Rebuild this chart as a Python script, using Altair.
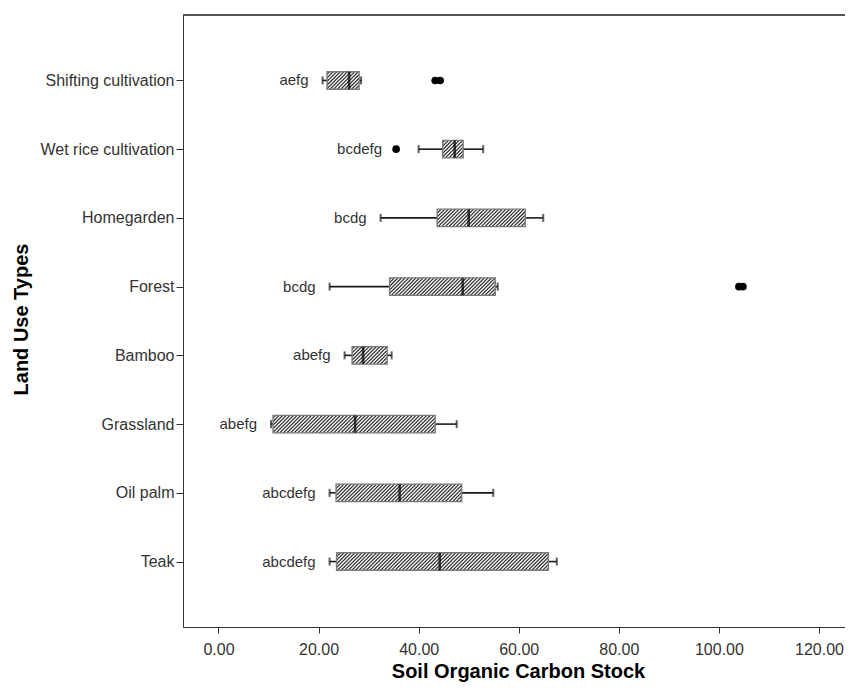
import json
import altair as alt
import numpy as np
import pandas as pd

# ---------------- data ----------------
land_use = ["Shifting cultivation", "Wet rice cultivation", "Homegarden", "Forest",
            "Bamboo", "Grassland", "Oil palm", "Teak"]
whisker_low = [20.8, 40.0, 32.4, 22.2, 25.2, 10.5, 22.2, 22.2]
q1 = [21.7, 44.8, 43.7, 34.2, 26.7, 10.9, 23.5, 23.6]
median = [26.1, 47.2, 50.0, 48.8, 28.9, 27.3, 36.2, 44.2]
q3 = [28.1, 48.9, 61.3, 55.3, 33.7, 43.3, 48.6, 65.9]
whisker_high = [28.5, 52.9, 64.9, 55.8, 34.6, 47.6, 54.9, 67.6]
letters = ["aefg", "bcdefg", "bcdg", "bcdg", "abefg", "abefg", "abcdefg", "abcdefg"]
outlier_group = ["Shifting cultivation", "Shifting cultivation", "Wet rice cultivation",
                 "Forest", "Forest"]
outlier_value = [43.3, 44.3, 35.5, 104.0, 104.8]
x_ticks = [0, 20, 40, 60, 80, 100, 120]

# ---------------- layout ----------------
W, H = 662, 612
x_dom = [-7.094, 125.2]
y_dom = [-0.952, 7.952]
ppu = W / (x_dom[1] - x_dom[0])
row_px = H / (y_dom[1] - y_dom[0])
box_px = 17.5
hh = box_px / 2 / row_px

rows = list(range(len(land_use)))
boxes = pd.DataFrame({
    "row": rows, "group": land_use, "lo": whisker_low, "q1": q1, "med": median,
    "q3": q3, "hi": whisker_high, "letters": letters,
})
out_df = pd.DataFrame({"group": outlier_group, "value": outlier_value})
out_df["row"] = out_df["group"].map({g: i for i, g in enumerate(land_use)})

# leftmost element of each row for the letter annotation
left_most = []
for i, g in enumerate(land_use):
    vals = [whisker_low[i]] + [v for gg, v in zip(outlier_group, outlier_value) if gg == g]
    left_most.append(min(vals))
boxes["left"] = left_most

# whisker segments
wh = pd.concat([
    pd.DataFrame({"row": rows, "a": whisker_low, "b": q1}),
    pd.DataFrame({"row": rows, "a": q3, "b": whisker_high}),
])
caps = pd.concat([
    pd.DataFrame({"row": rows, "v": whisker_low}),
    pd.DataFrame({"row": rows, "v": whisker_high}),
])

# hatch pattern derived from box extents
run = box_px / ppu
step = 3.6 / ppu
hatch = []
for i, (a, b) in enumerate(zip(q1, q3)):
    s0 = np.floor((a - run) / step) * step
    for s in np.arange(s0, b, step):
        t0 = max(0.0, (a - s) / run)
        t1 = min(1.0, (b - s) / run)
        if t1 > t0:
            hatch.append({"x": s + t0 * run, "x2": s + t1 * run,
                          "y": i + hh - 2 * hh * t0, "y2": i + hh - 2 * hh * t1})
hatch = pd.DataFrame(hatch)

FONT = "Liberation Sans"
xs = alt.Scale(domain=x_dom, nice=False, zero=False)
ys = alt.Scale(domain=y_dom, nice=False, zero=False, reverse=True)

label_expr = json.dumps(land_use) + "[datum.value]"

x_axis = alt.Axis(values=x_ticks, format=".2f", grid=False, labelFont=FONT, labelFontSize=16,
                  labelColor="#333333", tickColor="#333333", domainColor="#333333",
                  tickSize=6, labelPadding=8, title="Soil Organic Carbon Stock",
                  titleFont=FONT, titleFontSize=20, titleFontWeight="bold", titleColor="#000000",
                  titleX=(853 - 183) / 2, titleY=50.5, titleBaseline="alphabetic",
                  titleAlign="center")
y_axis = alt.Axis(values=rows, labelExpr=label_expr, grid=False, labelFont=FONT, labelFontSize=16,
                  labelColor="#333333", tickColor="#333333", domainColor="#333333",
                  tickSize=7, labelPadding=2, title="Land Use Types", titleFont=FONT,
                  titleFontSize=20, titleFontWeight="bold", titleColor="#000000",
                  titleAngle=270, titleX=-156, titleY=304, titleBaseline="alphabetic",
                  titleAlign="center")

base_box = alt.Chart(boxes).transform_calculate(
    ytop=f"datum.row - {hh}", ybot=f"datum.row + {hh}")

whisk = alt.Chart(wh).mark_rule(color="#1a1a1a", strokeWidth=1.6).encode(
    x=alt.X("a:Q", scale=xs, axis=x_axis), x2="b:Q",
    y=alt.Y("row:Q", scale=ys, axis=y_axis))

cap = alt.Chart(caps).mark_tick(orient="vertical", size=8, thickness=2, color="#1a1a1a").encode(
    x=alt.X("v:Q", scale=xs), y=alt.Y("row:Q", scale=ys))

box_fill = base_box.mark_rect(fill="#f4f4f4", stroke=None).encode(
    x=alt.X("q1:Q", scale=xs), x2="q3:Q",
    y=alt.Y("ytop:Q", scale=ys), y2="ybot:Q")

hatch_l = alt.Chart(hatch).mark_rule(color="#222222", strokeWidth=1.1).encode(
    x=alt.X("x:Q", scale=xs), x2="x2:Q", y=alt.Y("y:Q", scale=ys), y2="y2:Q")

box_line = base_box.mark_rect(fillOpacity=0, stroke="#7a7a7a", strokeWidth=1.4).encode(
    x=alt.X("q1:Q", scale=xs), x2="q3:Q",
    y=alt.Y("ytop:Q", scale=ys), y2="ybot:Q")

med = alt.Chart(boxes).mark_tick(orient="vertical", size=box_px, thickness=2.6, color="#000000").encode(
    x=alt.X("med:Q", scale=xs), y=alt.Y("row:Q", scale=ys))

outl = alt.Chart(out_df).mark_point(filled=True, shape="circle", size=58, color="#000000",
                                     opacity=1).encode(
    x=alt.X("value:Q", scale=xs), y=alt.Y("row:Q", scale=ys))

lab = alt.Chart(boxes).mark_text(align="right", baseline="middle", dx=-14, font=FONT,
                                 fontSize=15, color="#333333").encode(
    x=alt.X("left:Q", scale=xs), y=alt.Y("row:Q", scale=ys), text="letters:N")

top = alt.Chart(boxes).mark_rule(color="#555555", strokeWidth=1.5).encode(
    x=alt.value(0), x2=alt.value(W), y=alt.value(0))

chart = alt.layer(whisk, cap, box_fill, hatch_l, box_line, med, outl, lab, top).properties(
    width=W, height=H,
    autosize=alt.AutoSizeParams(type="none"),
    padding={"left": 175, "top": 7, "right": 0, "bottom": 55},
).configure_view(stroke=None).configure(background="white")

chart.save("out.html", embed_options={"renderer": "svg", "actions": False})
